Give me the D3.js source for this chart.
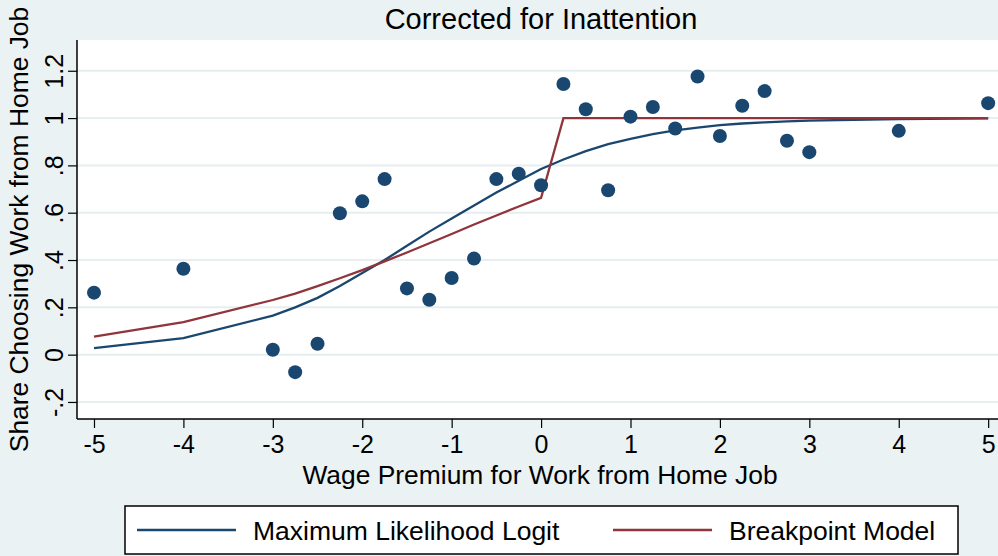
<!DOCTYPE html>
<html>
<head>
<meta charset="utf-8">
<script src="https://cdn.jsdelivr.net/npm/d3@7"></script>
<style>
  html, body { margin: 0; padding: 0; background: #eaf2f3; }
  svg { display: block; font-family: "Liberation Sans", Arial, Helvetica, sans-serif; }
</style>
</head>
<body>
<div id="chart"></div>
<script>
/* ── data ── */
const premium = [-5, -4, -3, -2.75, -2.5, -2.25, -2, -1.75, -1.5, -1.25, -1, -0.75, -0.5, -0.25,
                 0, 0.25, 0.5, 0.75, 1, 1.25, 1.5, 1.75, 2, 2.25, 2.5, 2.75, 3, 4, 5];
const shareObserved = [0.262, 0.363, 0.021, -0.074, 0.046, 0.598, 0.648, 0.742, 0.280, 0.232, 0.324, 0.406, 0.742, 0.765,
                       0.716, 1.144, 1.037, 0.695, 1.006, 1.047, 0.956, 1.176, 0.924, 1.052, 1.114, 0.904, 0.856, 0.946, 1.063];
const logitFit = [0.028, 0.070, 0.165, 0.200, 0.240, 0.290, 0.345, 0.400, 0.460, 0.520, 0.575, 0.630, 0.685, 0.735,
                  0.785, 0.825, 0.860, 0.890, 0.912, 0.932, 0.948, 0.960, 0.970, 0.977, 0.982, 0.986, 0.989, 0.996, 0.999];
const breakpointFit = [0.076, 0.137, 0.231, 0.258, 0.290, 0.323, 0.357, 0.394, 0.432, 0.471, 0.510, 0.550, 0.588, 0.626,
                       0.663, 1, 1, 1, 1, 1, 1, 1, 1, 1, 1, 1, 1, 1, 1];
const xTicks = [-5, -4, -3, -2, -1, 0, 1, 2, 3, 4, 5];
const yTicks = [-0.2, 0, 0.2, 0.4, 0.6, 0.8, 1, 1.2];
const yTickLabels = ['-.2', '0', '.2', '.4', '.6', '.8', '1', '1.2'];
const legendLabels = ['Maximum Likelihood Logit', 'Breakpoint Model'];

const W = 998, H = 556;
const PL = 77, PR = 998, PT = 40, PB = 419;
const NAVY = '#1a476f', MAROON = '#90353b', BG = '#eaf2f3', GRID = '#e6eef0';

const svg = d3.select('#chart').append('svg')
    .attr('width', W).attr('height', H);

svg.append('rect').attr('width', W).attr('height', H).attr('fill', BG);
svg.append('rect')
    .attr('x', PL).attr('y', PT)
    .attr('width', PR - PL).attr('height', PB - PT)
    .attr('fill', '#fff');

const x = d3.scaleLinear().domain([-5.19, 5.11]).range([PL, PR]);
const y = d3.scaleLinear().domain([-0.272, 1.33]).range([PB, PT]);

/* gridlines */
svg.append('g').selectAll('line').data(yTicks).join('line')
    .attr('x1', PL).attr('x2', PR)
    .attr('y1', d => y(d)).attr('y2', d => y(d))
    .attr('stroke', GRID).attr('stroke-width', 2);

/* axes */
const yAxis = svg.append('g')
    .attr('transform', `translate(${PL},0)`)
    .call(d3.axisLeft(y).tickValues(yTicks).tickSize(9).tickPadding(0).tickFormat((d, i) => yTickLabels[i]));
yAxis.select('.domain').attr('d', `M0,${PT}V${PB}`).attr('stroke', '#000').attr('stroke-width', 1.5);
yAxis.selectAll('.tick line').attr('stroke', '#000').attr('stroke-width', 1.2);
yAxis.selectAll('.tick text')
    .attr('font-size', 25).attr('fill', '#000')
    .attr('text-anchor', 'middle').attr('dy', null).attr('x', null)
    .attr('transform', 'translate(-23,0) rotate(-90)')
    .attr('dominant-baseline', 'central');

const xAxis = svg.append('g')
    .attr('transform', `translate(0,${PB})`)
    .call(d3.axisBottom(x).tickValues(xTicks).tickSize(9).tickPadding(7).tickFormat(d => String(d)));
xAxis.select('.domain').attr('d', `M${PL},0H${PR}`).attr('stroke', '#000').attr('stroke-width', 1.5);
xAxis.selectAll('.tick line').attr('stroke', '#000').attr('stroke-width', 1.2);
xAxis.selectAll('.tick text').attr('font-size', 25).attr('fill', '#000');

/* titles */
svg.append('text').attr('x', 541).attr('y', 29)
    .attr('text-anchor', 'middle').attr('font-size', 29).attr('fill', '#000')
    .text('Corrected for Inattention');
svg.append('text').attr('x', 540).attr('y', 484)
    .attr('text-anchor', 'middle').attr('font-size', 26.4).attr('fill', '#000')
    .text('Wage Premium for Work from Home Job');
svg.append('text')
    .attr('transform', `translate(28,${(PT + PB) / 2}) rotate(-90)`)
    .attr('text-anchor', 'middle').attr('font-size', 26.4).attr('fill', '#000')
    .text('Share Choosing Work from Home Job');

/* fitted lines */
const line = vals => d3.line().x((d, i) => x(premium[i])).y(d => y(d))(vals);
svg.append('path').attr('d', line(logitFit))
    .attr('fill', 'none').attr('stroke', NAVY).attr('stroke-width', 2.3);
svg.append('path').attr('d', line(breakpointFit))
    .attr('fill', 'none').attr('stroke', MAROON).attr('stroke-width', 2.3);

/* observed shares */
svg.append('g').selectAll('circle').data(shareObserved).join('circle')
    .attr('cx', (d, i) => x(premium[i])).attr('cy', d => y(d))
    .attr('r', 7).attr('fill', NAVY);

/* legend */
const lg = svg.append('g');
lg.append('rect').attr('x', 125).attr('y', 506).attr('width', 833).attr('height', 48)
    .attr('fill', '#fff').attr('stroke', '#000').attr('stroke-width', 1.5);
const legendItems = [
    { label: legendLabels[0], color: NAVY, x0: 137 },
    { label: legendLabels[1], color: MAROON, x0: 613 }
];
legendItems.forEach(it => {
    lg.append('line').attr('x1', it.x0).attr('x2', it.x0 + 99).attr('y1', 530).attr('y2', 530)
        .attr('stroke', it.color).attr('stroke-width', 2.3);
    lg.append('text').attr('x', it.x0 + 116).attr('y', 540)
        .attr('font-size', 26.5).attr('fill', '#000').text(it.label);
});
</script>
</body>
</html>
